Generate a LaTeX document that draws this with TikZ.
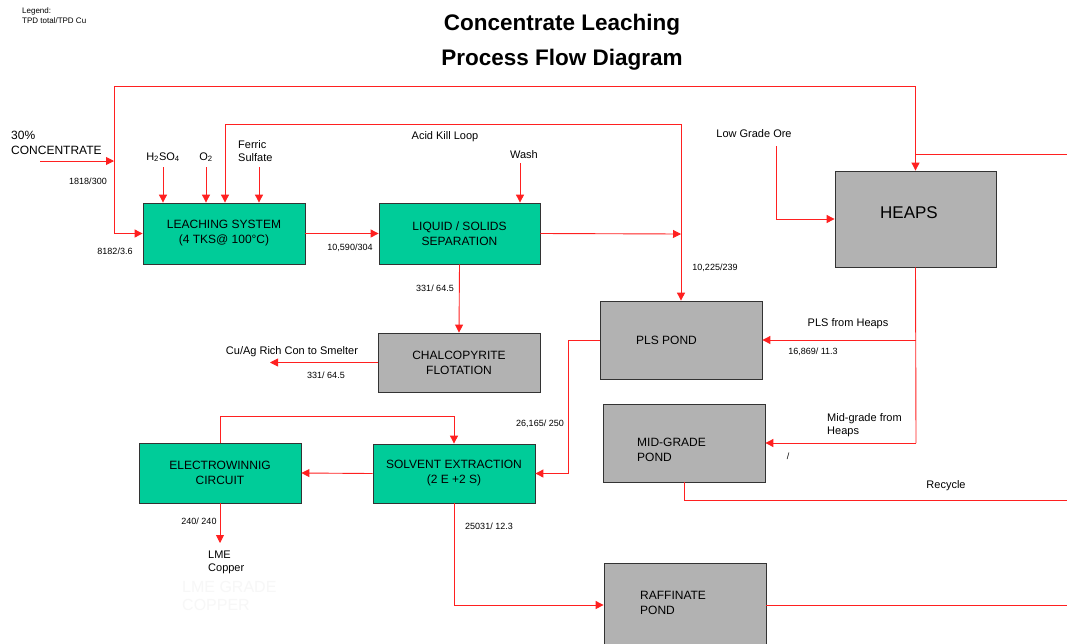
\documentclass[tikz,border=0pt]{standalone}
\usepackage{fontspec}
\setmainfont{Liberation Sans}
\usetikzlibrary{arrows.meta}
\definecolor{boxgreen}{HTML}{00CC99}
\definecolor{boxgray}{HTML}{B2B2B2}
\definecolor{flowred}{HTML}{FF2020}
\definecolor{ghost}{HTML}{F7F7F7}
\begin{document}
\begin{tikzpicture}[x=1pt,y=-1pt,
  box/.style={draw=black!80, line width=0.8pt, inner sep=0pt, align=center,
              font=\fontsize{12}{15}\selectfont},
  gbox/.style={box, fill=boxgreen},
  ybox/.style={box, fill=boxgray},
  pipe/.style={draw=flowred, line width=0.9pt},
  flow/.style={pipe, -{Triangle[length=8pt,width=8pt]}},
  lbl/.style={inner sep=0pt, font=\fontsize{11}{13}\selectfont},
  boxtxt/.style={inner sep=0pt, align=left, font=\fontsize{12}{15}\selectfont},
  num/.style={inner sep=0pt, font=\fontsize{9}{11}\selectfont},
  tiny/.style={inner sep=0pt, font=\fontsize{8}{10}\selectfont}]
\clip (0,0) rectangle (1067,643);
\fill[white] (0,0) rectangle (1067,643);

% titles and legend
\node[inner sep=0pt, font=\bfseries\fontsize{22.5}{26}\selectfont] (t1) at (562,25) {Concentrate Leaching};
\node[inner sep=0pt, font=\bfseries\fontsize{22.5}{26}\selectfont] (t2) at (562,60) {Process Flow Diagram};
\node[tiny, anchor=west] (lg1) at (22,11) {Legend:};
\node[tiny, anchor=west] (lg2) at (22,21) {TPD total/TPD Cu};

% boxes
\node[gbox, minimum width=162pt, minimum height=61pt] (leach) at (224,233.5) {LEACHING SYSTEM\\(4 TKS@ 100°C)};
\node[gbox, minimum width=161pt, minimum height=61pt] (lss) at (459.5,233.5) {LIQUID / SOLIDS\\SEPARATION};
\node[ybox, minimum width=161pt, minimum height=96pt] (heaps) at (915.5,219) {};
\node[inner sep=0pt, font=\fontsize{17}{20}\selectfont] (heapst) at (909,213) {HEAPS};
\node[ybox, minimum width=162pt, minimum height=78pt] (pls) at (681,340) {};
\node[boxtxt, anchor=west] (plst) at (636,340) {PLS POND};
\node[ybox, minimum width=162pt, minimum height=59pt] (chalco) at (459,362.5) {CHALCOPYRITE\\FLOTATION};
\node[ybox, minimum width=162pt, minimum height=78pt] (mid) at (684,443) {};
\node[boxtxt, anchor=west] (midt) at (637,450) {MID-GRADE\\POND};
\node[gbox, minimum width=162pt, minimum height=60pt] (ew) at (220,473) {ELECTROWINNIG\\CIRCUIT};
\node[gbox, minimum width=162pt, minimum height=59pt] (sx) at (454,473.5) {SOLVENT EXTRACTION\\(2 E +2 S)};
\node[ybox, minimum width=162pt, minimum height=84pt] (raff) at (685,605) {};
\node[boxtxt, anchor=west] (rafft) at (640,602.5) {RAFFINATE\\POND};

% coordinates
\coordinate (topL) at (114,86);
\coordinate (cin) at (40,161);
\coordinate (cj) at (114,161);
\coordinate (ak1) at (225,124);
\coordinate (ak2) at (681,124);
\coordinate (lj) at (681,234);
\coordinate (h2in) at (163,167);
\coordinate (o2in) at (206,167);
\coordinate (fsin) at (259,167);
\coordinate (washin) at (520,163);
\coordinate (smelt) at (270,362.5);
\coordinate (lgo) at (776,146);
\coordinate (hj) at (916,154);
\coordinate (hjr) at (1067,154);
\coordinate (hp) at (916,340);
\coordinate (hb) at (916,443);
\coordinate (pj1) at (568,340);
\coordinate (pj2) at (568,473.5);
\coordinate (mj) at (684,500);
\coordinate (mjr) at (1067,500);
\coordinate (ewt) at (220,416);
\coordinate (lme) at (220,543);
\coordinate (rr) at (1067,605);

% connectors
\draw[flow] (topL) -| (heaps.north);
\draw[flow] (topL) |- (leach.west);
\draw[flow] (cin) -- (cj);
\draw[flow] (ak2) -- (ak1) -- (ak1 |- leach.north);
\draw[flow] (ak2) -- (pls.north);
\draw[flow] (lss.east) -- (lj);
\draw[flow] (leach.east) -- (lss.west);
\draw[flow] (h2in) -- (h2in |- leach.north);
\draw[flow] (o2in) -- (o2in |- leach.north);
\draw[flow] (fsin) -- (fsin |- leach.north);
\draw[flow] (washin) -- (washin |- lss.north);
\draw[flow] (lss.south) -- (chalco.north);
\draw[flow] (chalco.west) -- (smelt);
\draw[flow] (lgo) |- (heaps.west);
\draw[pipe] (hj) -- (hjr);
\draw[pipe] (heaps.south) -- (hb);
\draw[flow] (hp) -- (pls.east);
\draw[flow] (hb) -- (mid.east);
\draw[flow] (pls.west) -- (pj1) -- (pj2) -- (sx.east);
\draw[pipe] (mid.south) -- (mj) -- (mjr);
\draw[flow] (ew.north) -- (ewt) -| (sx.north);
\draw[flow] (sx.west) -- (ew.east);
\draw[flow] (ew.south) -- (lme);
\draw[flow] (sx.south) |- (raff.west);
\draw[pipe] (raff.east) -- (rr);

% labels
\node[inner sep=0pt, anchor=west, align=left, font=\fontsize{12}{15}\selectfont] (conc) at (11,142.5) {30\%\\CONCENTRATE};
\node[lbl] (h2so4) at (163,157) {H\textsubscript{2}SO\textsubscript{4}};
\node[lbl] (o2) at (206,157) {O\textsubscript{2}};
\node[lbl, anchor=west, align=left] (ferric) at (238,151.5) {Ferric\\Sulfate};
\node[num] (n1) at (88,181) {1818/300};
\node[num] (n2) at (115,251) {8182/3.6};
\node[num] (n3) at (350,248) {10,590/304};
\node[num] (n4) at (435,288) {331/ 64.5};
\node[num] (n5) at (715,268) {10,225/239};
\node[lbl] (akl) at (445,137) {Acid Kill Loop};
\node[lbl] (wash) at (524,155) {Wash};
\node[lbl] (lgot) at (754,134) {Low Grade Ore};
\node[lbl] (smt) at (292,352) {Cu/Ag Rich Con to Smelter};
\node[num] (n6) at (326,375) {331/ 64.5};
\node[num] (n7) at (540,424) {26,165/ 250};
\node[lbl] (plsh) at (848,324) {PLS from Heaps};
\node[num] (n8) at (813,352) {16,869/ 11.3};
\node[lbl, anchor=west, align=left] (midh) at (827,425.5) {Mid-grade from\\Heaps};
\node[num] (n9) at (788,456) {/};
\node[lbl] (recy) at (946,486) {Recycle};
\node[num] (n10) at (199,521) {240/ 240};
\node[num] (n11) at (489,526) {25031/ 12.3};
\node[lbl, anchor=west, align=left] (lmec) at (208,562.5) {LME\\Copper};
\node[inner sep=0pt, anchor=west, align=left, text=ghost, font=\fontsize{16}{18}\selectfont] (lmeg) at (182,595.5) {LME GRADE\\COPPER};
\end{tikzpicture}
\end{document}
